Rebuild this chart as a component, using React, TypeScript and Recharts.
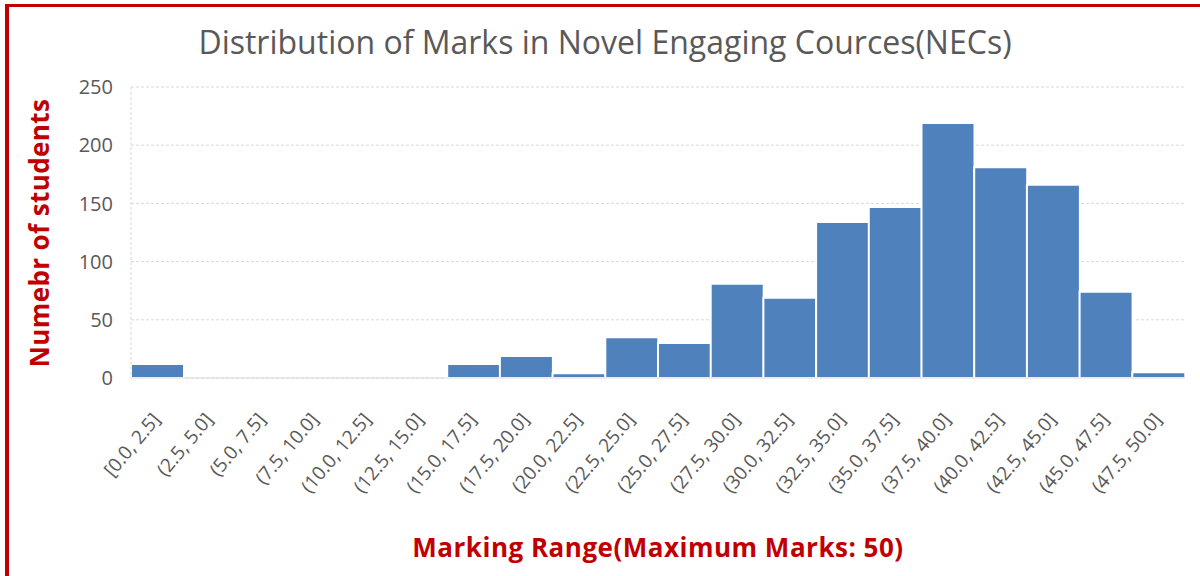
import { BarChart, Bar, XAxis, YAxis, CartesianGrid, Label } from 'recharts';

const bins = [
  '[0.0, 2.5]', '(2.5, 5.0]', '(5.0, 7.5]', '(7.5, 10.0]', '(10.0, 12.5]',
  '(12.5, 15.0]', '(15.0, 17.5]', '(17.5, 20.0]', '(20.0, 22.5]', '(22.5, 25.0]',
  '(25.0, 27.5]', '(27.5, 30.0]', '(30.0, 32.5]', '(32.5, 35.0]', '(35.0, 37.5]',
  '(37.5, 40.0]', '(40.0, 42.5]', '(42.5, 45.0]', '(45.0, 47.5]', '(47.5, 50.0]',
];
const students = [12, 0, 0, 0, 0, 0, 12, 19, 4, 35, 30, 81, 69, 134, 147, 219, 181, 166, 74, 5];
const yTicks = [0, 50, 100, 150, 200, 250];

const data = bins.map((bin, i) => ({ bin, students: students[i] }));

const RED = '#C00000';
const GREY = '#595959';
const FONT = '"Open Sans", sans-serif';

const BinTick = (props: any) => {
  const { x, y, payload } = props;
  return (
    <g transform={`translate(${x + 4},${y + 34})`}>
      <text textAnchor="end" transform="rotate(-50)" fill={GREY} fontSize={19} fontFamily={FONT}>
        {payload.value}
      </text>
    </g>
  );
};

export default function App() {
  return (
    <div style={{ position: 'absolute', left: 0, top: 0, width: 1200, height: 576, background: '#fff', overflow: 'hidden' }}>
      {/* frame */}
      <div
        style={{
          position: 'absolute', left: 5, top: 4, width: 1200, height: 580,
          borderTop: `3px solid ${RED}`, borderLeft: `4px solid ${RED}`, boxSizing: 'border-box',
        }}
      />
      <div
        style={{
          position: 'absolute', left: 0, width: 1210, top: 26, textAlign: 'center', lineHeight: 1,
          fontFamily: FONT, fontSize: 32, color: GREY, whiteSpace: 'nowrap',
        }}
      >
        Distribution of Marks in Novel Engaging Cources(NECs)
      </div>
      <BarChart
        width={1200}
        height={576}
        data={data}
        margin={{ top: 87, right: 15, bottom: 0, left: 0 }}
        barCategoryGap={0}
      >
        <CartesianGrid vertical={false} stroke="#D9D9D9" strokeDasharray="3 2" />
        <XAxis
          dataKey="bin"
          interval={0}
          height={198}
          tickLine={false}
          axisLine={{ stroke: '#D9D9D9' }}
          tick={<BinTick />}
        >
          <Label
            content={() => (
              <text x={658} y={557} textAnchor="middle" fill={RED} fontSize={26} fontWeight="bold" fontFamily={FONT} letterSpacing={0.5}>
                Marking Range(Maximum Marks: 50)
              </text>
            )}
          />
        </XAxis>
        <YAxis
          width={131}
          domain={[0, 250]}
          ticks={yTicks}
          tickLine={false}
          tickSize={0}
          tickMargin={18}
          axisLine={{ stroke: '#D9D9D9', strokeDasharray: '3 2' }}
          tick={{ fill: GREY, fontSize: 20, fontFamily: FONT }}
        >
          <Label
            content={() => (
              <text
                x={39}
                y={233}
                transform="rotate(-90, 39, 233)"
                textAnchor="middle"
                dominantBaseline="central"
                fill={RED}
                fontSize={26}
                fontWeight="bold"
                fontFamily={FONT}
                letterSpacing={0.4}
              >
                Numebr of students
              </text>
            )}
          />
        </YAxis>
        <Bar dataKey="students" fill="#4F81BD" stroke="#fff" strokeWidth={2} isAnimationActive={false} />
      </BarChart>
    </div>
  );
}
